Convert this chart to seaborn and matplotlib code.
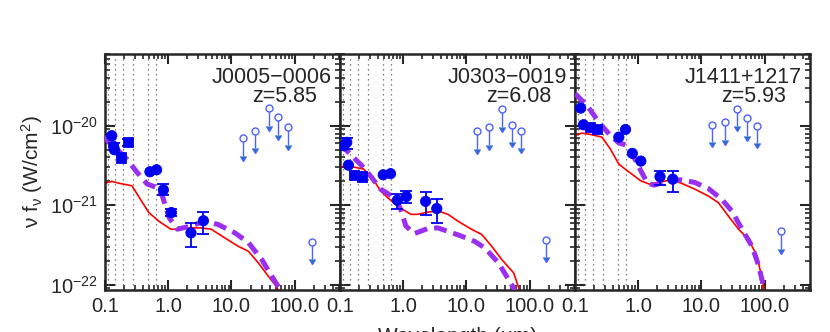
import numpy as np
import pandas as pd
import matplotlib
matplotlib.use("Agg")
import matplotlib.pyplot as plt
import seaborn as sns
from matplotlib.ticker import LogLocator, NullFormatter

# --- data (rest-frame wavelength in micron, nu f_nu in W/cm^2) ---
names = ["J0005\u22120006", "J0303\u22120019", "J1411+1217"]
redshifts = ["z=5.85", "z=6.08", "z=5.93"]

# filter lines (dotted)
band_lines = [0.113, 0.146, 0.19, 0.273, 0.475, 0.64]

# detections
det_wave_1 = [0.128, 0.137, 0.141, 0.178, 0.231, 0.513, 0.655, 0.838, 1.12, 2.29, 3.6]
det_flux_1 = [7.5e-21, 5.5e-21, 5.0e-21, 4.0e-21, 6.2e-21, 2.64e-21, 2.8e-21, 1.56e-21, 8.1e-22, 4.5e-22, 6.4e-22]
det_lo_1 = [np.nan, 4.9e-21, np.nan, np.nan, 5.6e-21, np.nan, np.nan, 1.34e-21, 7.3e-22, 3.0e-22, 4.3e-22]
det_hi_1 = [np.nan, 6.1e-21, np.nan, np.nan, 6.8e-21, np.nan, np.nan, 1.85e-21, 8.9e-22, 6.0e-22, 8.3e-22]
det_shape_1 = ["o", "o", "o", "s", "s", "o", "o", "o", "o", "o", "o"]

det_wave_2 = [0.116, 0.128, 0.136, 0.167, 0.222, 0.482, 0.63, 0.807, 1.12, 2.26, 3.39]
det_flux_2 = [5.6e-21, 6.2e-21, 3.2e-21, 2.42e-21, 2.3e-21, 2.42e-21, 2.5e-21, 1.16e-21, 1.29e-21, 1.12e-21, 9.1e-22]
det_lo_2 = [np.nan, 5.1e-21, np.nan, np.nan, np.nan, np.nan, np.nan, 8.9e-22, 1.06e-21, 7.5e-22, 6.0e-22]
det_hi_2 = [np.nan, 7.0e-21, np.nan, np.nan, np.nan, np.nan, np.nan, 1.38e-21, 1.52e-21, 1.49e-21, 1.19e-21]
det_shape_2 = ["o", "o", "o", "s", "s", "o", "o", "o", "o", "o", "o"]

det_wave_3 = [0.123, 0.136, 0.174, 0.222, 0.493, 0.63, 0.807, 1.1, 2.21, 3.52]
det_flux_3 = [1.67e-20, 1.03e-20, 9.6e-21, 9.2e-21, 7.2e-21, 9.0e-21, 4.5e-21, 3.6e-21, 2.29e-21, 2.13e-21]
det_lo_3 = [np.nan] * 8 + [1.79e-21, 1.45e-21]
det_hi_3 = [np.nan] * 8 + [2.72e-21, 2.72e-21]
det_shape_3 = ["o", "o", "s", "s", "o", "o", "o", "o", "o", "o"]

# upper limits
ul_wave_1 = [15.0, 23.6, 38.6, 53.8, 78.7, 186.0]
ul_flux_1 = [7.0e-21, 8.7e-21, 1.67e-20, 1.29e-20, 9.6e-21, 3.5e-22]
ul_wave_2 = [14.5, 23.0, 36.7, 52.5, 74.0, 179.0]
ul_flux_2 = [8.5e-21, 9.6e-21, 1.61e-20, 1.03e-20, 8.7e-21, 3.7e-22]
ul_wave_3 = [14.8, 23.6, 36.7, 52.5, 75.9, 184.0]
ul_flux_3 = [1.03e-20, 1.11e-20, 1.64e-20, 1.25e-20, 1.0e-20, 4.7e-22]

# model curves: red solid, purple dashed
red_wave_1 = [0.1, 0.128, 0.174, 0.267, 0.363, 0.493, 0.713, 1.1, 1.58, 2.29, 3.31, 4.79, 7.8, 12.8, 18.5, 26.7, 38.6, 52.5, 65.0]
red_flux_1 = [1.9e-21, 2.0e-21, 1.88e-21, 1.76e-21, 1.19e-21, 8.1e-22, 6.3e-22, 5.0e-22, 5.0e-22, 5.2e-22, 5.2e-22, 5.0e-22, 3.9e-22, 3.05e-22, 2.64e-22, 1.88e-22, 1.27e-22, 9.3e-23, 6.0e-23]
pur_wave_1 = [0.094, 0.154, 0.222, 0.321, 0.465, 0.671, 0.807, 1.03, 1.4, 2.29, 3.74, 6.1, 11.3, 18.5, 30.2, 43.7, 55.8, 65.0]
pur_flux_1 = [7.2e-21, 5.1e-21, 3.8e-21, 2.6e-21, 1.85e-21, 1.67e-21, 1.31e-21, 7.0e-22, 5.0e-22, 5.5e-22, 6.3e-22, 5.75e-22, 4.5e-22, 3.4e-22, 2.07e-22, 1.27e-22, 9.3e-23, 6.0e-23]

red_wave_2 = [0.1, 0.128, 0.174, 0.236, 0.321, 0.437, 0.593, 0.807, 1.32, 1.69, 2.44, 3.52, 5.09, 7.36, 12.0, 17.4, 25.1, 36.3, 55.8, 67.1, 75.0]
red_flux_2 = [3.0e-21, 3.15e-21, 3.0e-21, 2.86e-21, 2.24e-21, 1.52e-21, 1.21e-21, 9.8e-22, 7.7e-22, 7.7e-22, 8.2e-22, 8.5e-22, 7.7e-22, 6.3e-22, 5.0e-22, 4.3e-22, 3.05e-22, 2.07e-22, 1.41e-22, 9.1e-23, 6.0e-23]
pur_wave_2 = [0.1, 0.145, 0.222, 0.302, 0.437, 0.558, 0.759, 0.912, 1.1, 1.49, 2.44, 3.52, 5.09, 8.3, 13.6, 19.6, 32.1, 46.4, 55.8, 62.0]
pur_flux_2 = [5.9e-21, 4.4e-21, 3.15e-21, 2.35e-21, 1.6e-21, 1.42e-21, 1.21e-21, 8.9e-22, 5.5e-22, 4.4e-22, 5.1e-22, 5.2e-22, 4.7e-22, 4.1e-22, 3.5e-22, 2.9e-22, 1.88e-22, 1.16e-22, 9.1e-23, 6.0e-23]

red_wave_3 = [0.1, 0.128, 0.174, 0.267, 0.363, 0.493, 0.671, 1.1, 1.49, 2.29, 3.31, 4.79, 7.8, 12.8, 18.5, 26.7, 38.6, 55.8, 75.9, 91.2, 97.0, 102.0]
red_flux_3 = [7.55e-21, 8.1e-21, 7.8e-21, 7.2e-21, 5.1e-21, 3.3e-21, 2.72e-21, 2.03e-21, 1.85e-21, 1.97e-21, 2.09e-21, 1.9e-21, 1.6e-21, 1.31e-21, 1.08e-21, 7.3e-22, 5.0e-22, 3.7e-22, 2.28e-22, 1.16e-22, 9.1e-23, 6.0e-23]
pur_wave_3 = [0.1, 0.154, 0.209, 0.267, 0.363, 0.493, 0.63, 0.807, 1.1, 1.4, 1.79, 2.93, 4.79, 7.8, 12.8, 20.9, 30.2, 43.7, 63.1, 80.7, 97.0, 102.0]
pur_flux_3 = [2.54e-20, 1.81e-20, 1.29e-20, 1.0e-20, 7.55e-21, 6.1e-21, 5.75e-21, 4.4e-21, 2.72e-21, 1.9e-21, 1.79e-21, 2.03e-21, 2.09e-21, 1.94e-21, 1.63e-21, 1.19e-21, 8.5e-22, 5.0e-22, 3.05e-22, 1.71e-22, 9.1e-23, 6.0e-23]

panels = [
    (det_wave_1, det_flux_1, det_lo_1, det_hi_1, det_shape_1, ul_wave_1, ul_flux_1, red_wave_1, red_flux_1, pur_wave_1, pur_flux_1),
    (det_wave_2, det_flux_2, det_lo_2, det_hi_2, det_shape_2, ul_wave_2, ul_flux_2, red_wave_2, red_flux_2, pur_wave_2, pur_flux_2),
    (det_wave_3, det_flux_3, det_lo_3, det_hi_3, det_shape_3, ul_wave_3, ul_flux_3, red_wave_3, red_flux_3, pur_wave_3, pur_flux_3),
]

sns.set_style("ticks")
plt.rcParams["font.family"] = ["Liberation Sans", "DejaVu Sans"]
plt.rcParams["mathtext.fontset"] = "custom"
plt.rcParams["mathtext.rm"] = "Liberation Sans"
plt.rcParams["mathtext.it"] = "Liberation Sans:italic"
plt.rcParams["mathtext.bf"] = "Liberation Sans:bold"

blue = "#0000f0"
ul_blue = "#4d62ff"
purple = "#9a2ff0"

fig = plt.figure(figsize=(8.3, 3.32), dpi=100)
lefts = [105 / 830, 340 / 830, 575 / 830]
axes = []
for i, (dw, df_, dlo, dhi, dshape, uw, uf, rw, rf, pw, pf) in enumerate(panels):
    ax = fig.add_axes([lefts[i], 0.1265, 235 / 830, 0.7108])
    axes.append(ax)

    for b in band_lines:
        ax.axvline(b, color="0.35", lw=0.9, ls=(0, (1, 3)), zorder=1)

    sns.lineplot(x=rw, y=rf, ax=ax, color="red", lw=1.2, sort=False, estimator=None, zorder=2)
    sns.lineplot(x=pw, y=pf, ax=ax, color=purple, lw=3.6, sort=False, estimator=None,
                 linestyle=(0, (2.6, 1.4)), zorder=3)

    det = pd.DataFrame({"wave": dw, "flux": df_, "lo": dlo, "hi": dhi, "shape": dshape})
    err = det.dropna()
    ax.errorbar(err["wave"], err["flux"], yerr=[err["flux"] - err["lo"], err["hi"] - err["flux"]],
                fmt="none", ecolor=blue, elinewidth=1.3, capsize=4, capthick=1.3, zorder=4)
    sns.scatterplot(data=det, x="wave", y="flux", style="shape", markers={"o": "o", "s": "s"},
                    color=blue, edgecolor=blue, s=55, legend=False, ax=ax, zorder=5)

    # upper limits: open circle with a downward arrow
    uf = np.array(uf)
    ax.errorbar(uw, uf, yerr=uf * 0.4, uplims=True, fmt="o", ms=5, mfc="white", mec=ul_blue,
                mew=1.0, ecolor=ul_blue, elinewidth=1.0, capsize=2.5, zorder=5)

    ax.set_xscale("log")
    ax.set_yscale("log")
    ax.set_xlim(0.1, 520)
    ax.set_ylim(8.6e-23, 8e-20)
    ax.set_xlabel("")
    ax.set_ylabel("")

    ax.set_xticks([0.1, 1, 10, 100], ["0.1", "1.0", "10.0", "100.0"])
    ax.xaxis.set_minor_locator(LogLocator(base=10, subs=np.arange(2, 10)))
    ax.xaxis.set_minor_formatter(NullFormatter())
    ax.yaxis.set_major_locator(LogLocator(base=10))
    ax.yaxis.set_minor_locator(LogLocator(base=10, subs=np.arange(2, 10)))
    ax.yaxis.set_minor_formatter(NullFormatter())
    ax.tick_params(which="both", direction="in", top=True, right=True, labelsize=14.5)
    ax.tick_params(which="major", length=7, width=1.5, pad=5)
    ax.tick_params(which="minor", length=3.5, width=1.2)
    if i > 0:
        ax.tick_params(labelleft=False)
    for sp in ax.spines.values():
        sp.set_linewidth(1.8)

    ax.text(0.965, 0.877, names[i], transform=ax.transAxes, ha="right", va="baseline", fontsize=15.5)
    ax.text(0.90, 0.797, redshifts[i], transform=ax.transAxes, ha="right", va="baseline", fontsize=15.5)

axes[0].set_ylabel("\u03bd f$_\\mathregular{\u03bd}$ (W/cm$^\\mathregular{2}$)", fontsize=15, labelpad=4)
# axis title sits partly below the bottom edge, as in the original
fig.text(458 / 830, 0.014, "Wavelength (\u03bcm)", ha="center", va="top", fontsize=15)

fig.savefig("out.png", dpi=100)
